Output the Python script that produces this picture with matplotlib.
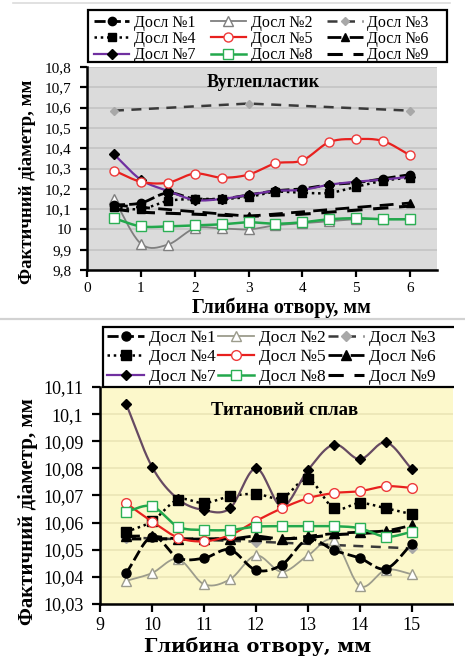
import numpy as np
import matplotlib
matplotlib.use("Agg")
import matplotlib.pyplot as plt
from matplotlib.lines import Line2D
from matplotlib.patches import Rectangle
from matplotlib.ticker import FuncFormatter, MultipleLocator

plt.rcParams['font.family'] = ['Liberation Serif', 'DejaVu Serif']

# ---------------- data: carbon-fibre plastic (Вуглепластик) ----------------
depth_c = [0.5, 1, 1.5, 2, 2.5, 3, 3.5, 4, 4.5, 5, 5.5, 6]
c1 = [10.12, 10.13, 10.18, 10.15, 10.15, 10.17, 10.19, 10.20, 10.22, 10.23, 10.25, 10.27]
c2 = [10.15, 9.93, 9.925, 10.005, 10.005, 10.00, 10.02, 10.03, 10.04, 10.05, 10.05, 10.05]
c3_x = [0.5, 3, 6]
c3 = [10.585, 10.62, 10.585]
c4 = [10.11, 10.10, 10.14, 10.15, 10.15, 10.16, 10.185, 10.18, 10.18, 10.21, 10.24, 10.255]
c5 = [10.29, 10.235, 10.23, 10.275, 10.255, 10.27, 10.325, 10.34, 10.43, 10.445, 10.435, 10.365]
c6_x = [0.5, 3, 6]
c6 = [10.12, 10.065, 10.13]
c7 = [10.37, 10.245, 10.19, 10.145, 10.15, 10.17, 10.19, 10.195, 10.22, 10.235, 10.245, 10.26]
c8 = [10.055, 10.015, 10.015, 10.02, 10.025, 10.035, 10.028, 10.035, 10.05, 10.055, 10.05, 10.05]
c9 = [10.10, 10.085, 10.08, 10.075, 10.07, 10.065, 10.07, 10.075, 10.085, 10.095, 10.105, 10.115]

# ---------------- data: titanium alloy (Титановий сплав) ----------------
depth_t = [9.5, 10, 10.5, 11, 11.5, 12, 12.5, 13, 13.5, 14, 14.5, 15]
t1 = [10.0413, 10.0548, 10.047, 10.0469, 10.050, 10.0425, 10.0445, 10.0539, 10.0498, 10.0469, 10.043, 10.0522]
t2 = [10.0385, 10.0414, 10.0466, 10.0373, 10.0391, 10.0479, 10.0419, 10.0479, 10.0535, 10.0366, 10.0426, 10.041]
t3_x = [9.5, 12, 15]
t3 = [10.0545, 10.053, 10.0505]
t4 = [10.0565, 10.0605, 10.0685, 10.0672, 10.0697, 10.0706, 10.0691, 10.076, 10.0653, 10.0672, 10.0653, 10.0631]
t5 = [10.0672, 10.0604, 10.0545, 10.0531, 10.0554, 10.0606, 10.0653, 10.069, 10.0709, 10.0716, 10.0734, 10.0728]
t6 = [10.055, 10.055, 10.054, 10.054, 10.054, 10.055, 10.054, 10.055, 10.056, 10.0565, 10.057, 10.059]
t7 = [10.1039, 10.0806, 10.0687, 10.0646, 10.0653, 10.080, 10.066, 10.0794, 10.0888, 10.0834, 10.0896, 10.0797]
t8 = [10.064, 10.066, 10.0585, 10.0573, 10.0573, 10.0585, 10.0587, 10.0587, 10.0587, 10.0579, 10.0548, 10.0566]
t9 = [10.054, 10.054, 10.054, 10.054, 10.054, 10.054, 10.054, 10.0545, 10.0555, 10.056, 10.0565, 10.0575]

labels = ['Досл №%d' % i for i in range(1, 10)]

W, H = 465, 657
fig = plt.figure(figsize=(W / 100, H / 100), dpi=100)
fig.patch.set_facecolor('white')


def fx(px):
    return px / W


def fy(py):
    return 1 - py / H


def smooth(x, y, n=20):
    """Catmull-Rom curve through the data points (spreadsheet-style smoothing)."""
    x = np.asarray(x, float)
    y = np.asarray(y, float)
    if len(x) < 3:
        return x, y
    px = np.concatenate([[2 * x[0] - x[1]], x, [2 * x[-1] - x[-2]]])
    py = np.concatenate([[2 * y[0] - y[1]], y, [2 * y[-1] - y[-2]]])
    t = np.linspace(0, 1, n, endpoint=False)
    xs, ys = [], []
    for i in range(len(x) - 1):
        for P, out in ((px, xs), (py, ys)):
            p0, p1, p2, p3 = P[i], P[i + 1], P[i + 2], P[i + 3]
            out.append(0.5 * ((2 * p1) + (-p0 + p2) * t +
                              (2 * p0 - 5 * p1 + 4 * p2 - p3) * t ** 2 +
                              (-p0 + 3 * p1 - 3 * p2 + p3) * t ** 3))
    xs = np.concatenate(xs + [[x[-1]]])
    ys = np.concatenate(ys + [[y[-1]]])
    return xs, ys


def draw_series(ax, x, y, st, do_smooth=True):
    if do_smooth:
        sx, sy = smooth(x, y)
    else:
        sx, sy = np.asarray(x), np.asarray(y)
    ax.plot(sx, sy, color=st['color'], lw=st['lw'], ls=st['ls'],
            solid_capstyle='butt', dash_capstyle='butt', zorder=st['z'])
    if st['marker']:
        ax.plot(x, y, ls='none', marker=st['marker'], ms=st['ms'],
                mfc=st['mfc'], mec=st['mec'], mew=st['mew'], zorder=st['z'] + 0.5)


def make_handle(st):
    return Line2D([], [], color=st['color'], lw=st['lw'], ls=st['ls'],
                  marker=st['marker'] or None, ms=st['ms'], mfc=st['mfc'],
                  mec=st['mec'], mew=st['mew'])


def styles(purple, gray2, ms):
    return [
        dict(color='black', lw=2.0, ls=(0, (4, 1.5)), marker='o', ms=ms, mfc='black', mec='black', mew=1, z=3),
        dict(color=gray2, lw=1.3, ls='-', marker='^', ms=ms + 0.5, mfc='white', mec=gray2, mew=1.0, z=2),
        dict(color='#3a3a3a', lw=1.8, ls=(0, (4, 3)), marker='D', ms=ms - 1.5, mfc='#a8a8a8', mec='#a8a8a8', mew=1, z=2),
        dict(color='black', lw=1.8, ls=(0, (1, 1.5)), marker='s', ms=ms, mfc='black', mec='black', mew=1, z=3),
        dict(color='#e8201e', lw=1.6, ls='-', marker='o', ms=ms + 0.5, mfc='white', mec='#ee3a3a', mew=1.0, z=4),
        dict(color='black', lw=2.0, ls=(0, (5, 3)), marker='^', ms=ms, mfc='black', mec='black', mew=1, z=3),
        dict(color=purple, lw=1.6, ls='-', marker='D', ms=ms - 1, mfc='black', mec='black', mew=1, z=3),
        dict(color='#22a84c', lw=1.8, ls='-', marker='s', ms=ms + 0.5, mfc='white', mec='#2cb055', mew=1.0, z=5),
        dict(color='black', lw=2.2, ls=(0, (5, 3.5)), marker=None, ms=ms, mfc='black', mec='black', mew=1, z=2),
    ]


def comma_fmt(v, pos):
    s = ('%.4f' % v).rstrip('0').rstrip('.')
    return s.replace('.', ',')


def style_axes(ax, bg, grid, tick_fs, tick_len, xpad, ypad):
    ax.set_facecolor(bg)
    ax.set_axisbelow(True)
    ax.yaxis.grid(True, color=grid, lw=1.2)
    ax.xaxis.grid(False)
    for side in ('top', 'right'):
        ax.spines[side].set_visible(False)
    for side in ('left', 'bottom'):
        ax.spines[side].set_linewidth(1.8)
        ax.spines[side].set_color('black')
    ax.tick_params(axis='both', direction='out', length=tick_len, width=1.6, labelsize=tick_fs,
                   colors='black')
    ax.tick_params(axis='x', pad=xpad)
    ax.tick_params(axis='y', pad=ypad)
    ax.yaxis.set_major_formatter(FuncFormatter(comma_fmt))


def order(seq):
    # legend filled row by row: 1 2 3 / 4 5 6 / 7 8 9
    return [seq[i] for i in (0, 3, 6, 1, 4, 7, 2, 5, 8)]


def legend_box(x0, y0, x1, y1):
    fig.add_artist(Rectangle((fx(x0), fy(y1)), fx(x1) - fx(x0), fy(y0) - fy(y1),
                             transform=fig.transFigure, facecolor='white',
                             edgecolor='black', lw=1.6, zorder=4))


# ---------------- upper chart ----------------
ax1 = fig.add_axes([fx(87), fy(270), fx(437) - fx(87), fy(67) - fy(270)])
st1 = styles('#7030a0', '#7f7f7f', 6)
top_series = [(depth_c, c1, True), (depth_c, c2, True), (c3_x, c3, False),
              (depth_c, c4, True), (depth_c, c5, True), (c6_x, c6, False),
              (depth_c, c7, True), (depth_c, c8, True), (depth_c, c9, True)]
for (x, y, sm), st in zip(top_series, st1):
    draw_series(ax1, x, y, st, sm)
ax1.set_xlim(0, 6.5)
ax1.set_ylim(9.8, 10.8)
ax1.xaxis.set_major_locator(MultipleLocator(1))
ax1.yaxis.set_major_locator(MultipleLocator(0.1))
style_axes(ax1, '#dbdbdb', '#c4c4c4', 11, 5, 3.5, 6)
ax1.text(0.503, 0.925, 'Вуглепластик', transform=ax1.transAxes, ha='center', va='center',
         fontsize=13, fontweight='bold')

legend_box(88, 10, 447, 62)
h1 = [make_handle(s) for s in st1]
leg1 = fig.legend(order(h1), order(labels), ncol=3, loc='upper left',
                  bbox_to_anchor=(fx(91), fy(11.5)), bbox_transform=fig.transFigure,
                  frameon=False, fontsize=11.5, handlelength=2.2, handletextpad=0.3,
                  labelspacing=0.02, borderpad=0.2, borderaxespad=0, columnspacing=0.95)
leg1.set_zorder(5)

fig.text(fx(27), fy(182), 'Фактичний діаметр, мм', rotation=90, ha='center', va='center',
         fontsize=13.5, fontweight='bold')
fig.text(fx(281), fy(308), 'Глибина отвору, мм', ha='center', va='center',
         fontsize=14.5, fontweight='bold')

# separator rules
fig.add_artist(Line2D([fx(13), fx(450)], [fy(3), fy(3)], color='#dcdcdc', lw=1.2,
                      transform=fig.transFigure))
fig.add_artist(Line2D([0, 1], [fy(319), fy(319)], color='#d2d2d2', lw=1.6,
                      transform=fig.transFigure))

# ---------------- lower chart ----------------
ax2 = fig.add_axes([fx(100), fy(604), fx(453) - fx(100), fy(387) - fy(604)])
st2 = styles('#664a62', '#9c9c8c', 6.5)
bot_series = [(depth_t, t1, True), (depth_t, t2, True), (t3_x, t3, False),
              (depth_t, t4, True), (depth_t, t5, True), (depth_t, t6, True),
              (depth_t, t7, True), (depth_t, t8, True), (depth_t, t9, True)]
for (x, y, sm), st in zip(bot_series, st2):
    draw_series(ax2, x, y, st, sm)
ax2.set_xlim(9, 15.79)
ax2.set_ylim(10.03, 10.11)
ax2.xaxis.set_major_locator(MultipleLocator(1))
ax2.yaxis.set_major_locator(MultipleLocator(0.01))
style_axes(ax2, '#fcf8cb', '#ebe5b6', 13, 6, 3.5, 6)
ax2.text(0.524, 0.894, 'Титановий сплав', transform=ax2.transAxes, ha='center', va='center',
         fontsize=13.5, fontweight='bold')

legend_box(103, 327, 500, 387)
st2_leg = styles('#7030a0', '#9c9c8c', 6.5)
h2 = [make_handle(s) for s in st2_leg]
leg2 = fig.legend(order(h2), order(labels), ncol=3, loc='upper left',
                  bbox_to_anchor=(fx(104), fy(326)), bbox_transform=fig.transFigure,
                  frameon=False, fontsize=12.5, handlelength=2.1, handletextpad=0.3,
                  labelspacing=0.2, borderpad=0.2, borderaxespad=0, columnspacing=0.1)
leg2.set_zorder(5)

fig.text(fx(28), fy(512), 'Фактичний діаметр, мм', rotation=90, ha='center', va='center',
         fontsize=15, fontweight='bold')
fig.text(fx(258), fy(647), 'Глибина отвору, мм', ha='center', va='center',
         fontsize=14, fontweight='bold', family=['DejaVu Serif'])

# the lower picture ends a little before the right edge of the page
fig.add_artist(Rectangle((fx(454), 0), fx(465) - fx(454), fy(320.5), transform=fig.transFigure,
                         facecolor='white', edgecolor='none', zorder=10))

fig.savefig('out.png', dpi=100, facecolor='white')
